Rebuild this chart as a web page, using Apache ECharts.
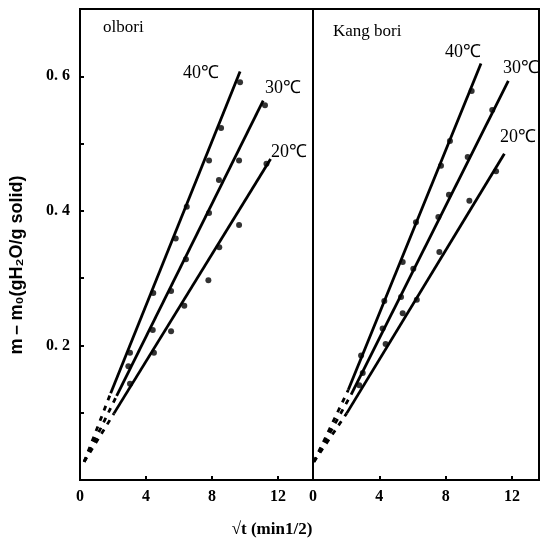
<!DOCTYPE html>
<html><head><meta charset="utf-8">
<script src="https://cdn.jsdelivr.net/npm/echarts@6/dist/echarts.min.js"></script>
<style>html,body{margin:0;padding:0;background:#fff}#c{width:541px;height:555px}</style>
</head><body><div id="c"></div><script>
// ---- data ----
const panelNames = ['olbori', 'Kang bori'];
const tempLabels = ['40℃', '30℃', '20℃'];
const xTickLabels = [0, 4, 8, 12];
const yTickLabels = [0.2, 0.4, 0.6];
const yAxisTitle = 'm－m₀(gH₂O/g solid)';
const xAxisTitle = '√t (min1/2)';

// olbori measured points [sqrt t, m-m0]
const olb40 = [[3.03,0.189],[4.44,0.278],[5.80,0.359],[6.47,0.406],[7.82,0.475],[8.55,0.523],[9.70,0.591]];
const olb30 = [[2.93,0.169],[4.41,0.223],[5.52,0.281],[6.42,0.328],[7.82,0.397],[8.42,0.446],[9.64,0.475],[11.21,0.557]];
const olb20 = [[3.03,0.143],[4.48,0.189],[5.52,0.221],[6.32,0.259],[7.78,0.297],[8.44,0.346],[9.64,0.379],[11.30,0.470]];
// olbori fitted lines
const olbFit40 = [[1.86,0.129],[9.70,0.607]];
const olbFit30 = [[2.22,0.125],[11.10,0.564]];
const olbFit20 = [[2.06,0.099],[11.55,0.477]];
const olbOrigin = [0.25,0.027];

// Kang bori measured points
const kang40 = [[2.90,0.185],[4.30,0.266],[5.41,0.324],[6.21,0.383],[7.72,0.467],[8.26,0.504],[9.57,0.578]];
const kang30 = [[3.00,0.159],[4.20,0.225],[5.31,0.272],[6.05,0.314],[7.56,0.391],[8.20,0.424],[9.33,0.480],[10.81,0.550]];
const kang20 = [[2.79,0.141],[4.38,0.202],[5.41,0.248],[6.26,0.268],[7.62,0.339],[9.43,0.415],[11.04,0.459]];
// Kang bori fitted lines
const kangFit40 = [[2.13,0.134],[10.13,0.619]];
const kangFit30 = [[2.30,0.127],[11.78,0.593]];
const kangFit20 = [[2.03,0.099],[11.54,0.485]];
const kangOrigin = [0.05,0.027];

// ---- chart ----
const chart = echarts.init(document.getElementById('c'));
const serifBold = {fontFamily:'Liberation Serif', fontWeight:'bold', fontSize:16, color:'#000'};

function xAxis(idx, max){
  return {
    type:'value', gridIndex:idx, min:0, max:max, interval:4,
    axisLine:{show:true, lineStyle:{color:'#000', width:2}},
    axisTick:{show:true, inside:true, length:4, lineStyle:{color:'#000', width:2}},
    splitLine:{show:false},
    axisLabel:Object.assign({margin:9, showMaxLabel:false,
      formatter:v => xTickLabels.includes(v) ? String(v) : ''}, serifBold)
  };
}
function yAxis(idx, labels){
  return {
    type:'value', gridIndex:idx, min:0, max:0.7, interval:0.1,
    axisLine:{show:true, lineStyle:{color:'#000', width:2}},
    axisTick:{show:labels, inside:true, length:4, lineStyle:{color:'#000', width:2}},
    splitLine:{show:false},
    axisLabel:Object.assign({show:labels, margin:10, showMaxLabel:false,
      formatter:v => {
        const r = Math.round(v*10)/10;
        return yTickLabels.includes(r) ? r.toFixed(1).replace('.', '. ') : '';
      }}, serifBold)
  };
}

const sets = [
  {g:0, pts:[olb40,olb30,olb20], fits:[olbFit40,olbFit30,olbFit20], origin:olbOrigin},
  {g:1, pts:[kang40,kang30,kang20], fits:[kangFit40,kangFit30,kangFit20], origin:kangOrigin}
];
const series = [];
sets.forEach(s => {
  for (let i = 0; i < 3; i++) {
    series.push({type:'line', xAxisIndex:s.g, yAxisIndex:s.g, data:s.fits[i], symbol:'none',
      lineStyle:{color:'#000', width:2.8}, silent:true, z:2});
    series.push({type:'line', xAxisIndex:s.g, yAxisIndex:s.g, data:[s.origin, s.fits[i][0]], symbol:'none',
      lineStyle:{color:'#000', width:2.8, type:[5,6]}, silent:true, z:2});
    series.push({type:'scatter', xAxisIndex:s.g, yAxisIndex:s.g, data:s.pts[i], symbol:'circle',
      symbolSize:6, itemStyle:{color:'#000'}, z:3});
  }
});

const txt = (x, y, t, style) => ({type:'text', x:x, y:y,
  style:Object.assign({text:t, fill:'#000', align:'center', verticalAlign:'middle',
    font:'18px "Liberation Serif"'}, style||{})});

chart.setOption({
  animation:false,
  backgroundColor:'#fff',
  grid:[
    {left:80, top:9, width:233, height:471, show:true, borderColor:'#000', borderWidth:2},
    {left:313, top:9, width:226, height:471, show:true, borderColor:'#000', borderWidth:2}
  ],
  xAxis:[xAxis(0, 14.12), xAxis(1, 13.63)],
  yAxis:[yAxis(0, true), yAxis(1, false)],
  series:series,
  graphic:[
    txt(103, 28, panelNames[0], {align:'left', font:'17px "Liberation Serif"'}),
    txt(333, 32, panelNames[1], {align:'left', font:'17px "Liberation Serif"'}),
    txt(201, 73, tempLabels[0]),
    txt(283, 88, tempLabels[1]),
    txt(289, 152, tempLabels[2]),
    txt(463, 52, tempLabels[0]),
    txt(521, 68, tempLabels[1]),
    txt(518, 137, tempLabels[2]),
    {type:'text', x:17, y:265, rotation:Math.PI/2,
      style:{text:yAxisTitle, fill:'#000', align:'center', verticalAlign:'middle',
        font:'bold 18px "Liberation Sans"'}},
    txt(272, 530, xAxisTitle, {font:'bold 17px "Liberation Serif"'})
  ]
});
</script></body></html>
